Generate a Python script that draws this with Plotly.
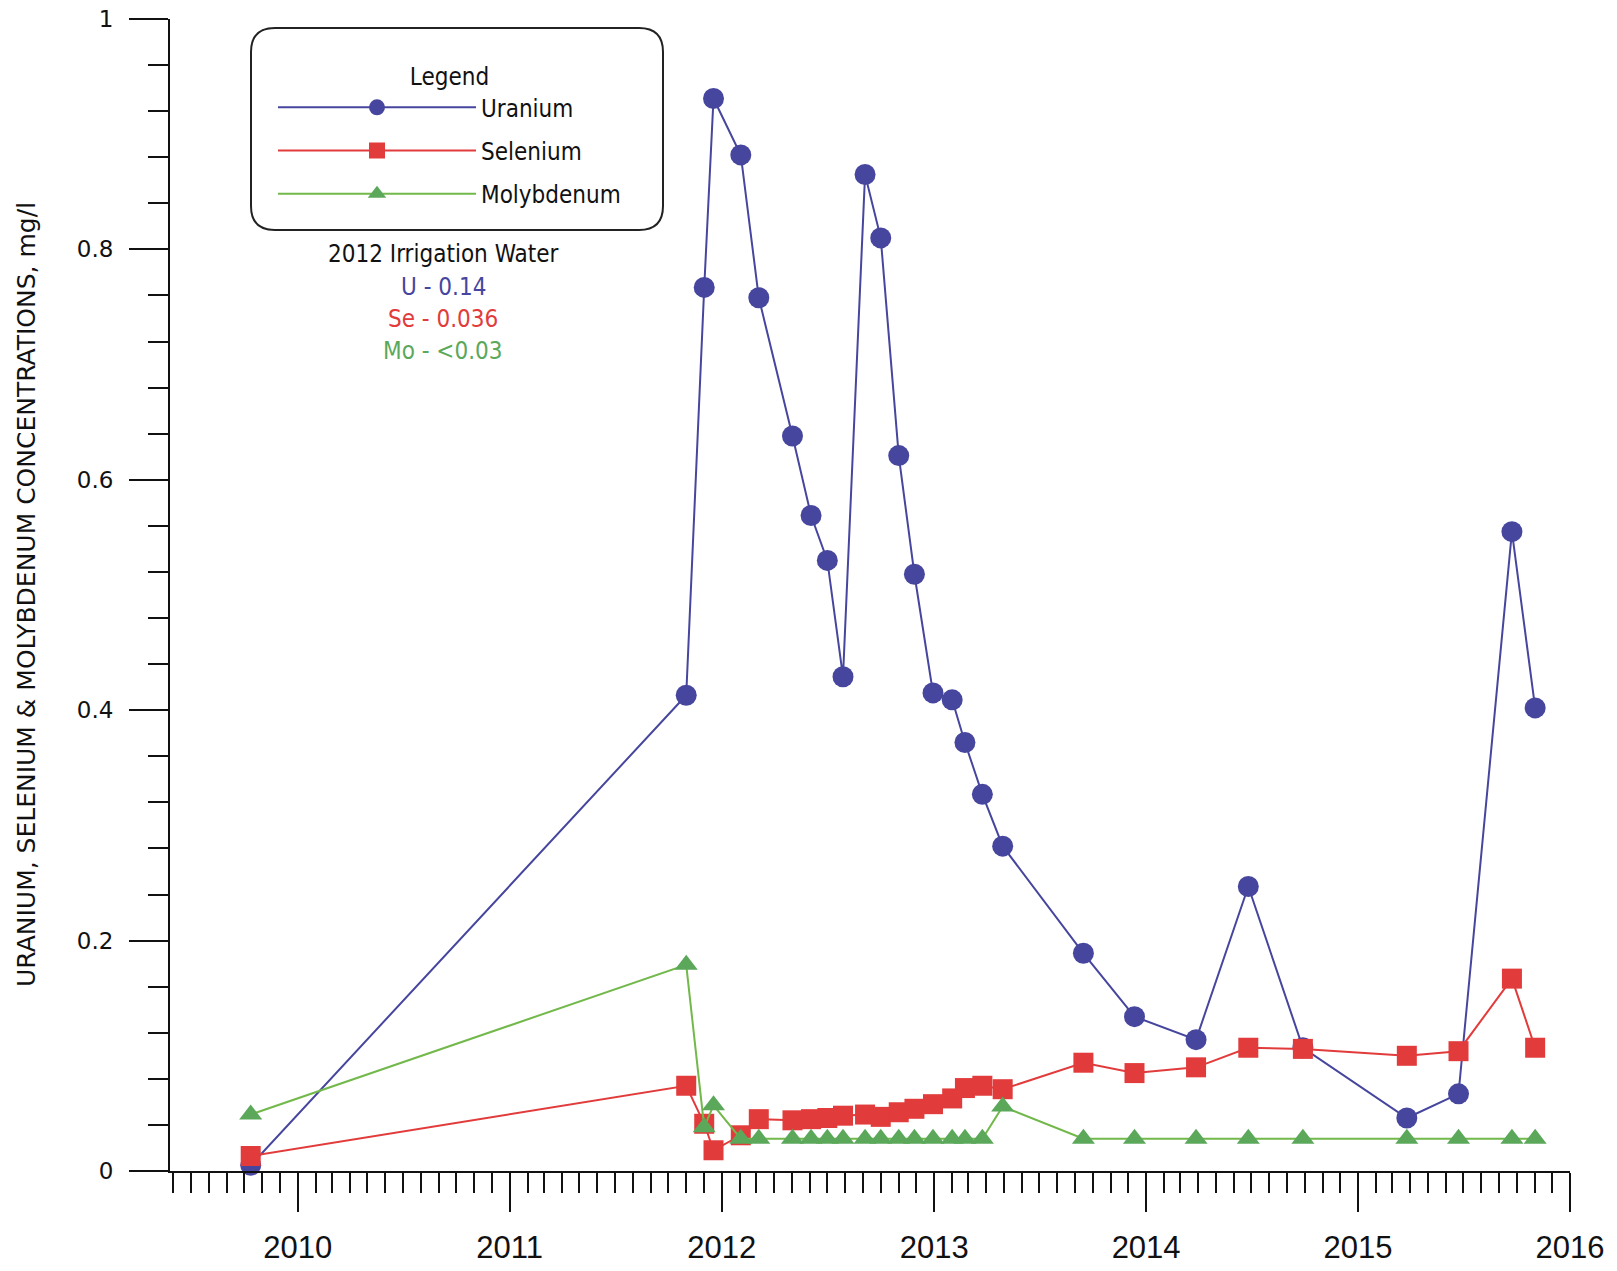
import plotly.graph_objects as go

dates = [
    "2009-10-12", "2011-11-01", "2011-12-02", "2011-12-18", "2012-02-03", "2012-03-05",
    "2012-05-02", "2012-06-03", "2012-07-01", "2012-07-28", "2012-09-04", "2012-10-01",
    "2012-11-01", "2012-11-28", "2012-12-30", "2013-02-01", "2013-02-23", "2013-03-25",
    "2013-04-29", "2013-09-15", "2013-12-12", "2014-03-28", "2014-06-26", "2014-09-28",
    "2015-03-26", "2015-06-23", "2015-09-23", "2015-11-02",
]
uranium = [
    0.005, 0.413, 0.767, 0.931, 0.882, 0.758,
    0.638, 0.569, 0.530, 0.429, 0.865, 0.810,
    0.621, 0.518, 0.415, 0.409, 0.372, 0.327,
    0.282, 0.189, 0.134, 0.114, 0.247, 0.107,
    0.046, 0.067, 0.555, 0.402,
]
selenium = [
    0.013, 0.074, 0.041, 0.018, 0.031, 0.045,
    0.044, 0.045, 0.046, 0.048, 0.049, 0.047,
    0.051, 0.054, 0.058, 0.063, 0.072, 0.074,
    0.071, 0.094, 0.085, 0.090, 0.107, 0.106,
    0.100, 0.104, 0.167, 0.107,
]
molybdenum = [
    0.049, 0.179, 0.038, 0.057, 0.028, 0.028,
    0.028, 0.028, 0.028, 0.028, 0.028, 0.028,
    0.028, 0.028, 0.028, 0.028, 0.028, 0.028,
    0.056, 0.028, 0.028, 0.028, 0.028, 0.028,
    0.028, 0.028, 0.028, 0.028,
]
series_names = ["Uranium", "Selenium", "Molybdenum"]
y_ticks = [0, 0.2, 0.4, 0.6, 0.8, 1]
y_tick_labels = ["0", "0.2", "0.4", "0.6", "0.8", "1"]
note_lines = ["2012 Irrigation Water", "U - 0.14", "Se - 0.036", "Mo - <0.03"]

BLUE = "#46469e"
RED = "#e23b3b"
GREEN_M = "#5ba85b"
GREEN_L = "#72b84a"

W, H = 1617, 1271
L, R, T, B = 170, 47, 19, 100
PW, PH = W - L - R, H - T - B


def px(xp):
    return (xp - L) / PW


def py(yp):
    return (H - B - yp) / PH


COND = "DejaVu Sans Condensed, Liberation Sans Narrow, Arial Narrow, DejaVu Sans, sans-serif"

fig = go.Figure()
styles = [
    (uranium, BLUE, BLUE, "circle", 21),
    (selenium, RED, RED, "square", 20),
    (molybdenum, GREEN_L, GREEN_M, "triangle-up", 20),
]
for i, (vals, lc, mc, sym, sz) in enumerate(styles):
    fig.add_trace(go.Scatter(
        x=dates, y=vals, name=series_names[i], mode="lines+markers",
        line=dict(color=lc, width=2),
        marker=dict(color=mc, symbol=sym, size=sz, line=dict(width=0)),
        cliponaxis=False, legendgroup=series_names[i],
    ))

# rounded legend frame
x0, y0, x1, y1, r = 251, 28, 663, 230, 24
path = (
    f"M {px(x0 + r)},{py(y0)} L {px(x1 - r)},{py(y0)} Q {px(x1)},{py(y0)} {px(x1)},{py(y0 + r)} "
    f"L {px(x1)},{py(y1 - r)} Q {px(x1)},{py(y1)} {px(x1 - r)},{py(y1)} "
    f"L {px(x0 + r)},{py(y1)} Q {px(x0)},{py(y1)} {px(x0)},{py(y1 - r)} "
    f"L {px(x0)},{py(y0 + r)} Q {px(x0)},{py(y0)} {px(x0 + r)},{py(y0)} Z"
)
fig.add_shape(type="path", path=path, xref="paper", yref="paper",
              line=dict(color="#222222", width=2))

note_colors = ["#111111", BLUE, RED, GREEN_M]
note_y = [254, 287, 319, 351]
for txt, col, yy in zip(note_lines, note_colors, note_y):
    fig.add_annotation(x=px(443), y=py(yy), xref="paper", yref="paper", text=txt,
                       showarrow=False, xanchor="center", yanchor="middle",
                       font=dict(family=COND, size=24, color=col))

fig.add_annotation(x=px(26), y=0.5, xref="paper", yref="paper",
                   text="URANIUM, SELENIUM & MOLYBDENUM CONCENTRATIONS, mg/l",
                   textangle=-90, showarrow=False, xanchor="center", yanchor="middle",
                   font=dict(family="DejaVu Sans, Verdana, sans-serif", size=25, color="#111111"))

fig.update_layout(
    width=W, height=H,
    margin=dict(l=L, r=R, t=T, b=B, autoexpand=False),
    paper_bgcolor="white", plot_bgcolor="white",
    showlegend=True,
    legend=dict(
        x=px(273), y=py(54), xanchor="left", yanchor="top",
        bgcolor="rgba(0,0,0,0)", borderwidth=0,
        itemwidth=198, tracegroupgap=9,
        font=dict(family=COND, size=24, color="#111111"),
        title=dict(text="Legend", side="top center",
                   font=dict(family=COND, size=24, color="#111111")),
    ),
    xaxis=dict(
        range=["2009-05-26", "2016-01-01"],
        tickmode="linear", tick0="2010-01-01", dtick="M12", tickformat="%Y",
        ticks="outside", ticklen=39, tickwidth=2, tickcolor="#111111",
        showline=True, linecolor="#111111", linewidth=2,
        showgrid=False, zeroline=False,
        ticklabelstandoff=9,
        tickfont=dict(family="Liberation Sans, Arial, sans-serif", size=31, color="#111111"),
        minor=dict(dtick="M1", tick0="2010-01-01", ticks="outside", ticklen=20,
                   tickwidth=2, tickcolor="#111111", showgrid=False),
    ),
    yaxis=dict(
        range=[0, 1], tickvals=y_ticks, ticktext=y_tick_labels,
        ticks="outside", ticklen=39, tickwidth=2, tickcolor="#111111",
        showline=True, linecolor="#111111", linewidth=2,
        showgrid=False, zeroline=False,
        ticklabelstandoff=11,
        tickfont=dict(family="DejaVu Sans, Verdana, sans-serif", size=23, color="#111111"),
        minor=dict(dtick=0.04, tick0=0, ticks="outside", ticklen=20,
                   tickwidth=2, tickcolor="#111111", showgrid=False),
    ),
)

fig.write_html("out.html")
